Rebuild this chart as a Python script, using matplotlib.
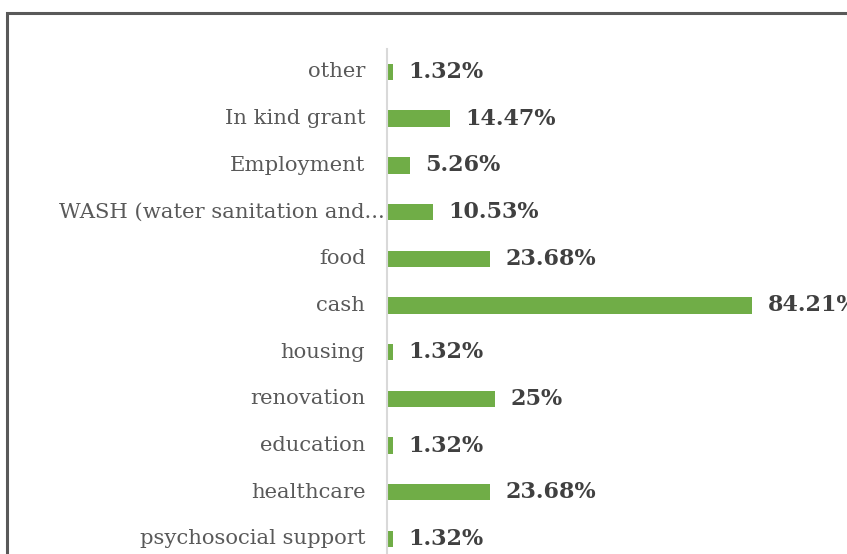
import matplotlib.pyplot as plt
from matplotlib.patches import Rectangle

categories = ['other', 'In kind grant', 'Employment', 'WASH (water sanitation and...',
              'food', 'cash', 'housing', 'renovation', 'education', 'healthcare',
              'psychosocial support']
values = [1.32, 14.47, 5.26, 10.53, 23.68, 84.21, 1.32, 25, 1.32, 23.68, 1.32]
value_labels = ['1.32%', '14.47%', '5.26%', '10.53%', '23.68%', '84.21%',
                '1.32%', '25%', '1.32%', '23.68%', '1.32%']

W, H = 847, 554
fig = plt.figure(figsize=(W / 100, H / 100), dpi=100)

# outer chart frame (cut off at right and bottom like the screenshot)
fig.patches.append(Rectangle((7 / W, -0.1), 1.2, (H - 12.5) / H + 0.1,
                             transform=fig.transFigure, fill=False,
                             edgecolor='#595959', linewidth=2.2))

ax = fig.add_axes([387 / W, 0, (W - 387) / W, 1 - 48.6 / H])
pos = list(range(len(categories)))
ax.barh(pos, values, height=0.35, color='#70ad47')
ax.set_xlim(0, (W - 387) / 4.334)
ax.set_ylim((H - 72) / 46.7, -0.5)

for s in ['top', 'right', 'bottom']:
    ax.spines[s].set_visible(False)
ax.spines['left'].set_color('#d9d9d9')
ax.spines['left'].set_linewidth(1.5)
ax.set_xticks([])
ax.set_yticks([])

for i, (cat, v, lab) in enumerate(zip(categories, values, value_labels)):
    xr = -0.5 if cat.endswith('...') else -5.0
    ax.text(xr, i, cat, ha='right', va='center', fontsize=15.2,
            family='DejaVu Serif', color='#595959', clip_on=False)
    ax.text(v + 3.6, i, lab, ha='left', va='center', fontsize=16,
            family='DejaVu Serif', fontweight='bold', color='#404040', clip_on=False)

fig.savefig('out.png', dpi=100)
